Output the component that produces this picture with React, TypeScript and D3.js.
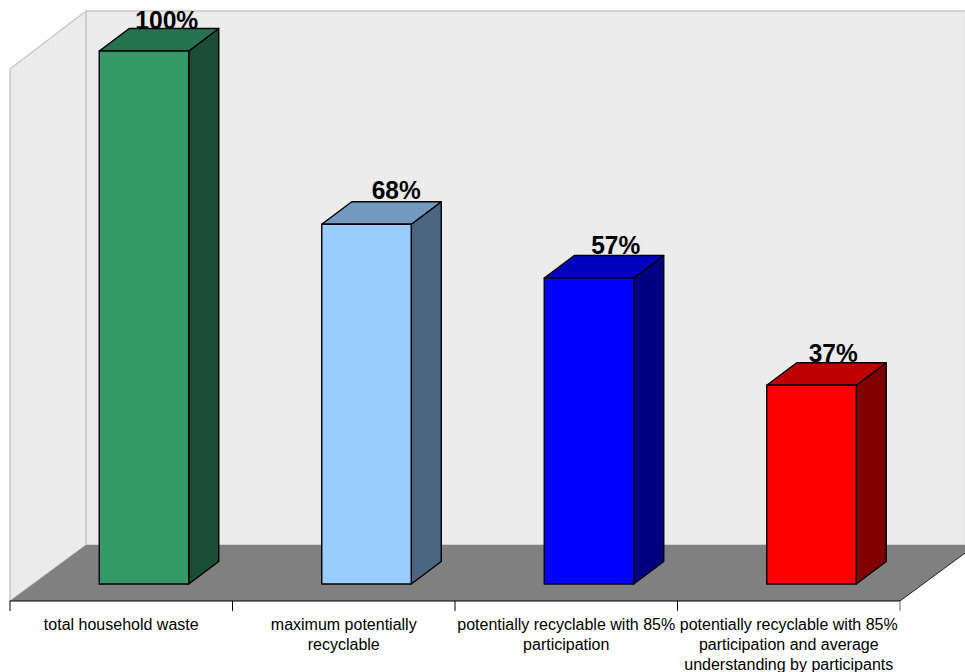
import React from "react";
import * as d3 from "d3";

const categories: string[][] = [
  ["total household waste"],
  ["maximum potentially", "recyclable"],
  ["potentially recyclable with 85%", "participation"],
  ["potentially recyclable with 85%", "participation and average", "understanding by participants"],
];
const values = [100, 67.5, 57.4, 37.3];
const labels = ["100%", "68%", "57%", "37%"];
const labelShift = [45.5, 52.5, 49.5, 44.5];
const labelRise = [22, 25, 24, 23.5];
const labelWidth = [63, 49, 49, 49];
const frontColors = ["#339966", "#99ccff", "#0000ff", "#ff0000"];
const topColors = ["#267350", "#7399bf", "#0000bf", "#bf0000"];
const sideColors = ["#1a4d33", "#4d6680", "#000080", "#800000"];

const W = 965, H = 672;
const fx0 = 10, fx1 = 900, fy = 601;
const ddx = 76, ddy = -56;
const bdx = 30, bdy = -22.5;

const xScale = d3.scaleBand<number>().domain(d3.range(4)).range([fx0, fx1]).paddingInner(0).paddingOuter(0);
const yScale = d3.scaleLinear().domain([0, 100]).range([584, 51]);
const line = d3.line();
const poly = (pts: [number, number][]) => line(pts)! + "Z";

export default function App() {
  const wallTop = 11;
  const leftTop = wallTop - ddy + 2;
  return (
    <svg width={W} height={H} style={{ position: "absolute", left: 0, top: 0, background: "#fff" }}
      fontFamily="'Liberation Sans', Arial, sans-serif">
      <defs>
        <pattern id="stripes" width="2" height="2" patternUnits="userSpaceOnUse">
          <rect width="2" height="2" fill="#eeeeee" />
          <rect width="1" height="2" fill="#e9e9e9" />
        </pattern>
      </defs>
      <path d={poly([[fx0 + ddx, wallTop], [W + 20, wallTop], [W + 20, fy + ddy], [fx0 + ddx, fy + ddy]])}
        fill="url(#stripes)" stroke="#c8c8c8" strokeWidth={1.5} />
      <path d={poly([[fx0, leftTop], [fx0 + ddx, wallTop], [fx0 + ddx, fy + ddy], [fx0, fy]])}
        fill="url(#stripes)" stroke="#c8c8c8" strokeWidth={1.5} />
      <path d={poly([[fx0, fy], [fx0 + ddx, fy + ddy], [fx1 + ddx, fy + ddy], [fx1, fy]])} fill="#808080" />
      <path d={line([[fx1, fy], [fx1 + ddx, fy + ddy]])!} stroke="#222" strokeWidth={1} fill="none" />
      <line x1={fx0} x2={fx1} y1={fy} y2={fy} stroke="#000" strokeWidth={1} />
      {d3.range(5).map((i) => {
        const x = fx0 + (i * (fx1 - fx0)) / 4;
        return <line key={i} x1={x} x2={x} y1={fy} y2={fy + 10} stroke={i === 4 ? "#666" : "#000"} strokeWidth={1} />;
      })}
      {values.map((v, i) => (
        <text key={i} x={xScale(i)! + xScale.bandwidth() / 2 + labelShift[i]} y={yScale(v) - labelRise[i]}
          textAnchor="middle" fontSize={26.5} fontWeight="bold" fill="#000"
          textLength={labelWidth[i]} lengthAdjust="spacingAndGlyphs">
          {labels[i]}
        </text>
      ))}
      {values.map((v, i) => {
        const c = xScale(i)! + xScale.bandwidth() / 2;
        const x0 = c - 22;
        const x1 = x0 + 89.5;
        const y0 = yScale(v), yb = yScale(0);
        return (
          <g key={i} stroke="#000" strokeWidth={1.4} strokeLinejoin="round">
            <path d={poly([[x1, y0], [x1 + bdx, y0 + bdy], [x1 + bdx, yb + bdy], [x1, yb]])} fill={sideColors[i]} />
            <path d={poly([[x0, y0], [x0 + bdx, y0 + bdy], [x1 + bdx, y0 + bdy], [x1, y0]])} fill={topColors[i]} />
            <rect x={x0} y={y0} width={x1 - x0} height={yb - y0} fill={frontColors[i]} />
          </g>
        );
      })}
      {categories.map((ls, i) => {
        const c = xScale(i)! + xScale.bandwidth() / 2;
        return (
          <text key={i} textAnchor="middle" fontSize={16} fill="#000">
            {ls.map((t, j) => (
              <tspan key={j} x={c} y={630 + j * 20}>{t}</tspan>
            ))}
          </text>
        );
      })}
    </svg>
  );
}
